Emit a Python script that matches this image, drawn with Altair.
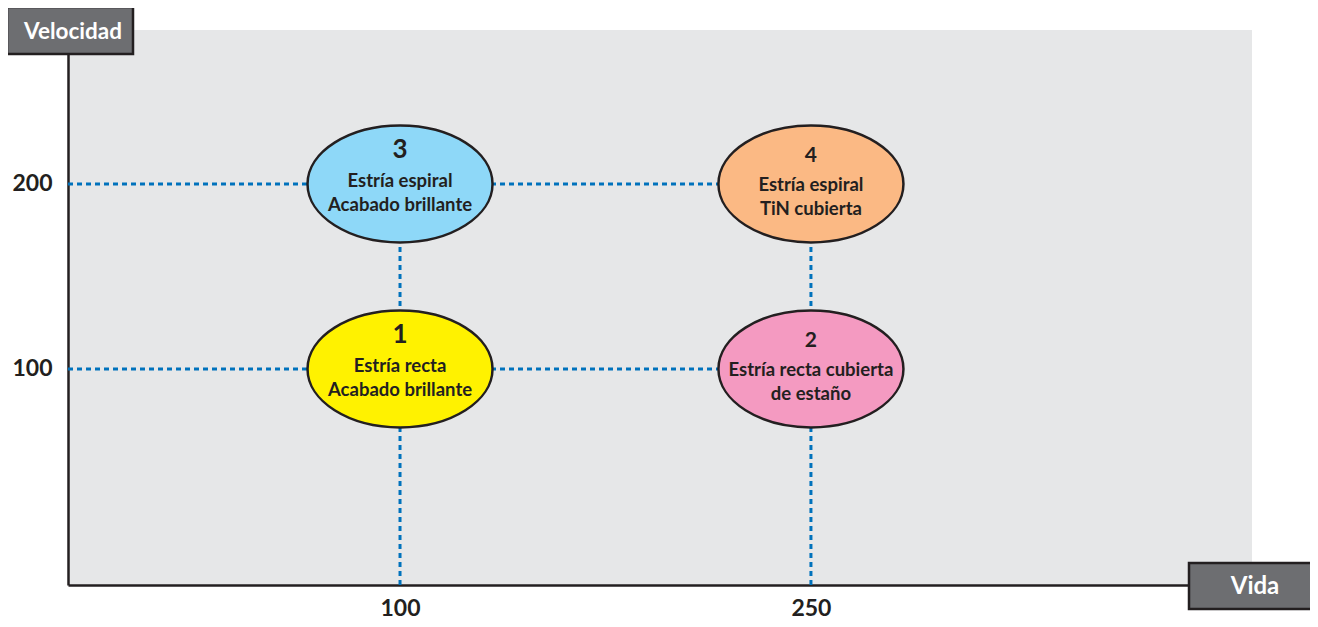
import altair as alt
import pandas as pd

# ---- data ----
ids = ["1", "2", "3", "4"]
vida = [100, 250, 100, 250]
velocidad = [100, 100, 200, 200]
line1 = ["Estría recta", "Estría recta cubierta", "Estría espiral", "Estría espiral"]
line2 = ["Acabado brillante", "de estaño", "Acabado brillante", "TiN cubierta"]
groups = ["A", "B", "A", "B"]
fills = ["#fff200", "#f49ac1", "#8ed8f8", "#fbb984"]

x_ticks = [100, 250]
y_ticks = [100, 200]
X_DOMAIN = [-21.2, 411]
Y_DOMAIN = [-16.8, 283.2]

INK = "#231f20"
BLUE = "#0072bc"
FONT = "Lato"

df = pd.DataFrame({"id": ids, "vida": vida, "velocidad": velocidad,
                   "l1": line1, "l2": line2, "g": groups})

# guide lines (dotted) from the axes to the ellipses
h_df = pd.DataFrame({"y": y_ticks, "x0": [X_DOMAIN[0]] * 2, "x1": [max(x_ticks)] * 2})
v_df = pd.DataFrame({"x": x_ticks, "y0": [Y_DOMAIN[0]] * 2, "y1": [max(y_ticks)] * 2})

xs = alt.Scale(domain=X_DOMAIN, nice=False, zero=False)
ys = alt.Scale(domain=Y_DOMAIN, nice=False, zero=False)

x_axis = alt.Axis(values=x_ticks, ticks=False, grid=False, title=None,
                  domainColor=INK, domainWidth=2.5, labelFont=FONT,
                  labelFontSize=23, labelFontWeight="bold", labelColor=INK,
                  labelPadding=12, format="d")
y_axis = alt.Axis(values=y_ticks, ticks=False, grid=False, title=None,
                  domainColor=INK, domainWidth=2.5, labelFont=FONT,
                  labelFontSize=23, labelFontWeight="bold", labelColor=INK,
                  labelPadding=16, format="d")

hrules = alt.Chart(h_df).mark_rule(color=BLUE, strokeWidth=3, strokeDash=[5, 4]).encode(
    x=alt.X("x0:Q", scale=xs, axis=x_axis),
    x2="x1:Q",
    y=alt.Y("y:Q", scale=ys, axis=y_axis),
)
vrules = alt.Chart(v_df).mark_rule(color=BLUE, strokeWidth=3, strokeDash=[5, 4]).encode(
    x=alt.X("x:Q", scale=xs),
    y=alt.Y("y0:Q", scale=ys),
    y2="y1:Q",
)

ELLIPSE = "M-1,0A1,0.632,0,1,1,1,0A1,0.632,0,1,1,-1,0Z"
ellipses = alt.Chart(df).mark_point(
    shape=ELLIPSE, size=185 * 185, filled=True, opacity=1,
    stroke=INK, strokeWidth=2.5,
).encode(
    x=alt.X("vida:Q", scale=xs),
    y=alt.Y("velocidad:Q", scale=ys),
    fill=alt.Fill("id:N", scale=alt.Scale(domain=ids, range=fills), legend=None),
)


def txt(field, group, dy, size):
    return alt.Chart(df).transform_filter(
        alt.datum.g == group
    ).mark_text(font=FONT, fontWeight="bold", fontSize=size, color=INK,
                baseline="middle", align="center", dy=dy).encode(
        x=alt.X("vida:Q", scale=xs),
        y=alt.Y("velocidad:Q", scale=ys),
        text=f"{field}:N",
    )


texts = [
    txt("id", "A", -34, 26), txt("l1", "A", -3, 18.5), txt("l2", "A", 21, 18.5),
    txt("id", "B", -28, 21), txt("l1", "B", 1, 18.5), txt("l2", "B", 25, 18.5),
]

# axis name boxes
box_df = pd.DataFrame({"name": ["Velocidad", "Vida"]})
vel_box = alt.Chart(box_df).transform_filter(alt.datum.name == "Velocidad").mark_rect(
    fill="#6d6e71", stroke=INK, strokeWidth=2.5).encode(
    x=alt.value(-61), x2=alt.value(65), y=alt.value(-23), y2=alt.value(24))
vel_txt = alt.Chart(box_df).transform_filter(alt.datum.name == "Velocidad").mark_text(
    font=FONT, fontWeight="bold", fontSize=22.5, color="white", baseline="middle",
    align="center").encode(x=alt.value(5), y=alt.value(2), text="name:N")
vida_box = alt.Chart(box_df).transform_filter(alt.datum.name == "Vida").mark_rect(
    fill="#6d6e71", stroke=INK, strokeWidth=2.5).encode(
    x=alt.value(1121), x2=alt.value(1246), y=alt.value(533), y2=alt.value(579))
vida_txt = alt.Chart(box_df).transform_filter(alt.datum.name == "Vida").mark_text(
    font=FONT, fontWeight="bold", fontSize=24, color="white", baseline="middle",
    align="center").encode(x=alt.value(1187), y=alt.value(557), text="name:N")

chart = alt.layer(
    hrules, vrules, ellipses, *texts, vel_box, vel_txt, vida_box, vida_txt
).properties(
    width=1184, height=555,
    autosize=alt.AutoSizeParams(type="none"),
    padding={"left": 60, "top": 22, "right": 58, "bottom": 34},
).configure_view(fill="#e6e7e8", strokeWidth=0)

chart.save("out.html", embed_options={"renderer": "svg", "actions": False})
